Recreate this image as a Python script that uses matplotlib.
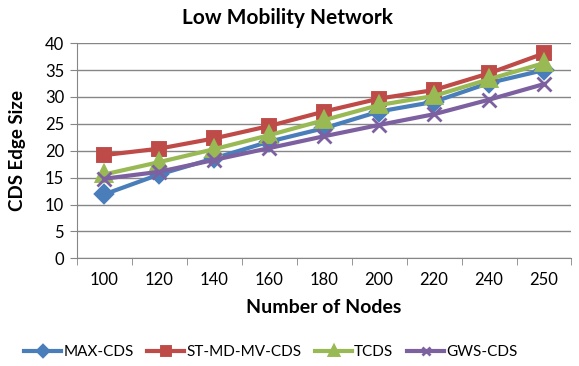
import numpy as np
import matplotlib.pyplot as plt

nodes = ['100', '120', '140', '160', '180', '200', '220', '240', '250']
max_cds = [11.9, 15.6, 18.6, 21.7, 24.2, 27.3, 29.1, 32.6, 35.0]
st_md_mv_cds = [19.2, 20.4, 22.3, 24.6, 27.3, 29.7, 31.3, 34.4, 38.1]
tcds = [15.6, 17.9, 20.3, 22.9, 25.7, 28.5, 30.2, 33.3, 36.3]
gws_cds = [14.8, 16.1, 18.3, 20.5, 22.7, 24.8, 26.8, 29.5, 32.4]

plt.rcParams['font.family'] = ['Lato', 'DejaVu Sans']

fig = plt.figure(figsize=(5.79, 3.66), dpi=100)
ax = fig.add_axes([0.1325, 0.294, 0.8545, 0.588])

x = np.arange(len(nodes))
series = [
    ('MAX-CDS', max_cds, '#4A7EBB', 'D', 8, 2.8),
    ('ST-MD-MV-CDS', st_md_mv_cds, '#BE4B48', 's', 9, 2.8),
    ('TCDS', tcds, '#98B954', '^', 10, 2.8),
    ('GWS-CDS', gws_cds, '#7D60A0', 'x', 10, 2.0),
]
for name, vals, col, mk, ms, mew in series:
    ax.plot(x, vals, color=col, lw=3, marker=mk, ms=ms, mew=mew,
            mec=col, mfc=col, label=name)

ax.set_xlim(-0.5, len(nodes) - 0.5)
ax.set_ylim(0, 40)
ax.set_yticks(range(0, 41, 5))
ax.set_xticks(x)
ax.set_xticklabels(nodes)
ax.set_xticks(np.arange(-0.5, len(nodes), 1), minor=True)
ax.tick_params(axis='x', which='major', length=0, pad=10, labelsize=12)
ax.tick_params(axis='x', which='minor', length=5, color='#868686')
ax.tick_params(axis='y', length=5, color='#868686', labelsize=12, pad=4)
ax.grid(axis='y', color='#868686', lw=1)
ax.set_axisbelow(True)
for s in ['top', 'right']:
    ax.spines[s].set_visible(False)
for s in ['left', 'bottom']:
    ax.spines[s].set_color('#868686')

fig.text(0.497, 0.952, 'Low Mobility Network', fontsize=15, fontweight='bold',
         ha='center', va='center')
ax.set_xlabel('Number of Nodes', fontsize=14, fontweight='bold', labelpad=8)
ax.set_ylabel('CDS Edge Size', fontsize=13.5, fontweight='bold', labelpad=14)

fig.legend(loc='center', bbox_to_anchor=(0.468, 0.038), ncol=4,
           frameon=False, fontsize=11, handlelength=2.4, columnspacing=0.9,
           handletextpad=0.15, markerscale=0.6)

fig.savefig('out.png', dpi=100)
